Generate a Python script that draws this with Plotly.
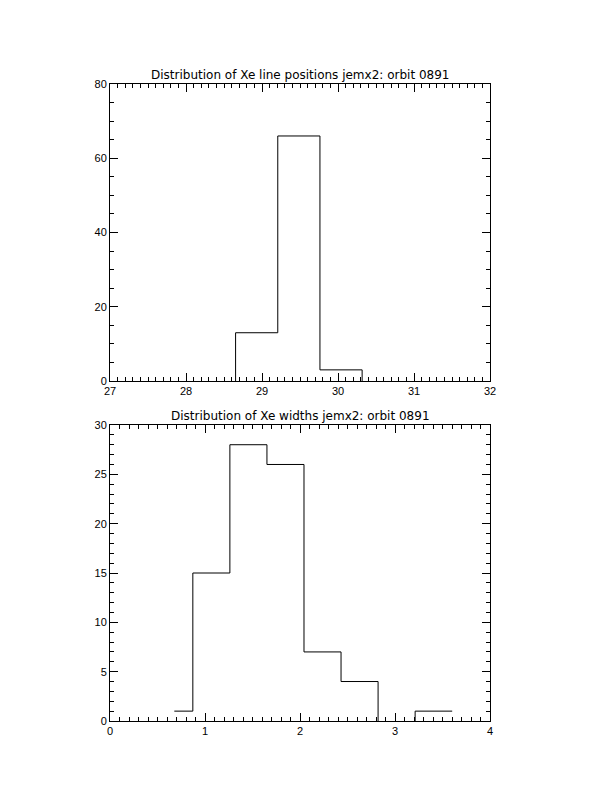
import plotly.graph_objects as go

# ---- Data ----
# Top panel: Xe line positions (bin locations and counts)
pos_bins = [28.375, 28.93, 29.485, 30.04, 30.595]
pos_counts = [0, 13, 66, 3, 0]
pos_width = 0.555

# Bottom panel: Xe widths (bin locations and counts)
wid_bins = [0.677, 1.067, 1.457, 1.847, 2.237, 2.627, 3.017, 3.407]
wid_counts = [1, 15, 28, 26, 7, 4, 0, 1]
wid_width = 0.39

title_top = "Distribution of Xe line positions jemx2: orbit 0891"
title_bottom = "Distribution of Xe widths jemx2: orbit 0891"

top_xticks = [27, 28, 29, 30, 31, 32]
top_yticks = [0, 20, 40, 60, 80]
bot_xticks = [0, 1, 2, 3, 4]
bot_yticks = [0, 5, 10, 15, 20, 25, 30]

# ---- Figure ----
W, H = 612, 792
FONT = "Liberation Sans"
TFONT = "DejaVu Sans"


def step_xy(bins, counts, width):
    """IDL psym=10 style step outline: horizontal per bin, verticals at midpoints.
    Zero-level horizontals are left out (they lie on the axis frame)."""
    n = len(bins)
    xs, ys = [], []
    for i in range(n):
        left = bins[0] if i == 0 else (bins[i - 1] + bins[i]) / 2.0
        right = bins[-1] + width / 2.0 if i == n - 1 else (bins[i] + bins[i + 1]) / 2.0
        c = counts[i]
        if c > 0:
            xs += [left, right]
            ys += [c, c]
        else:
            xs += [left, None, right]
            ys += [0, None, 0]
    return xs, ys


fig = go.Figure()

x1, y1 = step_xy(pos_bins, pos_counts, pos_width)
fig.add_trace(go.Scatter(x=x1, y=y1, mode="lines", line=dict(color="black", width=1),
                         connectgaps=False, xaxis="x", yaxis="y", showlegend=False, hoverinfo="skip"))

x2, y2 = step_xy(wid_bins, wid_counts, wid_width)
fig.add_trace(go.Scatter(x=x2, y=y2, mode="lines", line=dict(color="black", width=1),
                         connectgaps=False, xaxis="x2", yaxis="y2", showlegend=False, hoverinfo="skip"))

top_px, bot_px = 84, 381
top2_px, bot2_px = 425, 721
xdom = [110 / W, 490 / W]
ydom_top = [1 - bot_px / H, 1 - top_px / H]
ydom_bot = [1 - bot2_px / H, 1 - top2_px / H]


def axis_style(rng, tickvals, minor_dtick, domain, anchor):
    return dict(
        domain=domain, anchor=anchor, range=rng, autorange=False, automargin=False,
        tickmode="array", tickvals=tickvals, ticktext=[str(v) for v in tickvals],
        ticks="inside", ticklen=8, tickwidth=1, tickcolor="black",
        minor=dict(ticks="inside", ticklen=4, tickwidth=1, tickcolor="black",
                   dtick=minor_dtick, tick0=rng[0], showgrid=False),
        showline=True, linecolor="black", linewidth=1, mirror="ticks",
        showgrid=False, zeroline=False,
        tickfont=dict(family=FONT, size=11, color="black"),
        fixedrange=True,
    )


fig.update_layout(
    template="none",
    width=W, height=H, autosize=False,
    margin=dict(l=0, r=0, t=0, b=0, pad=0),
    paper_bgcolor="white", plot_bgcolor="white",
    font=dict(family=FONT, color="black"),
    xaxis=axis_style([27, 32], top_xticks, 0.1, xdom, "y"),
    yaxis=axis_style([0, 80], top_yticks, 5, ydom_top, "x"),
    xaxis2=axis_style([0, 4], bot_xticks, 0.1, xdom, "y2"),
    yaxis2=axis_style([0, 30], bot_yticks, 1, ydom_bot, "x2"),
    annotations=[
        dict(text=title_top, xref="paper", yref="paper", x=(xdom[0] + xdom[1]) / 2, y=ydom_top[1],
             xanchor="center", yanchor="bottom", yshift=0, showarrow=False,
             font=dict(family=TFONT, size=12, color="black")),
        dict(text=title_bottom, xref="paper", yref="paper", x=(xdom[0] + xdom[1]) / 2, y=ydom_bot[1],
             xanchor="center", yanchor="bottom", yshift=0, showarrow=False,
             font=dict(family=TFONT, size=12, color="black")),
    ],
)

fig.write_html(
    "out.html",
    config=dict(displayModeBar=False),
    post_script="document.body.style.margin='0';document.body.style.overflow='hidden';",
)
